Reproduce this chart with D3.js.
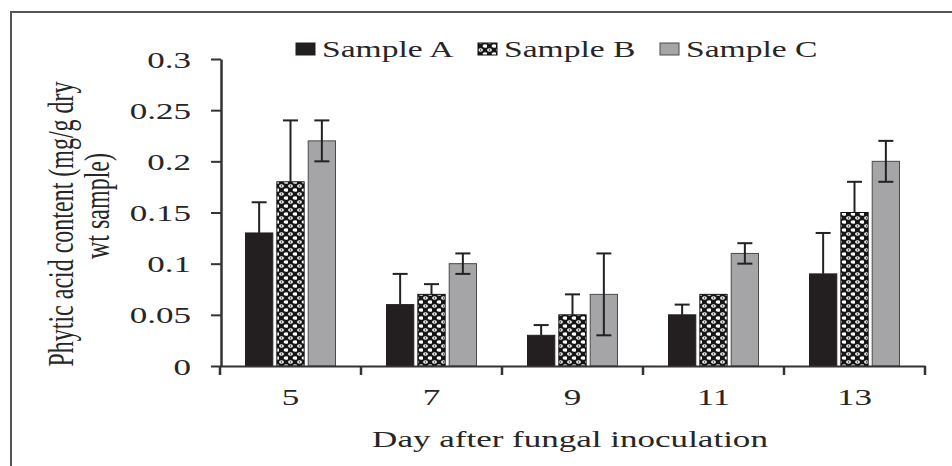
<!DOCTYPE html>
<html>
<head>
<meta charset="utf-8">
<script src="https://cdn.jsdelivr.net/npm/d3@7"></script>
<style>
  body { margin: 0; background: #fff; }
  text { font-family: "Liberation Serif", "Times New Roman", serif; fill: #262626; }
</style>
</head>
<body>
<div id="chart"></div>
<script>
var width = 952;
var height = 466;

// the picture is stretched sideways, so the text is too
var stretch = 1.46;

var days = ['5', '7', '9', '11', '13'];
var seriesNames = ['Sample A', 'Sample B', 'Sample C'];
var sampleA = [0.13, 0.06, 0.03, 0.05, 0.09];
var sampleB = [0.18, 0.07, 0.05, 0.07, 0.15];
var sampleC = [0.22, 0.10, 0.07, 0.11, 0.20];
var errA = [0.03, 0.03, 0.01, 0.01, 0.04];
var errB = [0.06, 0.01, 0.02, 0, 0.03];
var errC = [0.02, 0.01, 0.04, 0.01, 0.02];
var yTicks = [0, 0.05, 0.1, 0.15, 0.2, 0.25, 0.3];

var values = [sampleA, sampleB, sampleC];
var errors = [errA, errB, errC];
// A and B only show the upper half of the error bar
var twoSided = [false, false, true];

var svg = d3.select('#chart').append('svg')
  .attr('width', width)
  .attr('height', height);

// pattern for sample B
var defs = svg.append('defs');
var pat = defs.append('pattern')
  .attr('id', 'chain')
  .attr('patternUnits', 'userSpaceOnUse')
  .attr('width', 9)
  .attr('height', 8);
pat.append('rect').attr('width', 9).attr('height', 8).attr('fill', '#151515');
pat.append('ellipse').attr('cx', 2.5).attr('cy', 2).attr('rx', 2.4).attr('ry', 1.8).attr('fill', '#fff');
pat.append('ellipse').attr('cx', 7).attr('cy', 6).attr('rx', 2.4).attr('ry', 1.8).attr('fill', '#fff');
pat.append('circle').attr('cx', 2.5).attr('cy', 2).attr('r', 0.8).attr('fill', '#151515');

var fills = ['#231f20', 'url(#chain)', '#a5a5a7'];
var strokes = ['#231f20', '#111', '#4a4a4a'];

// frame
svg.append('path')
  .attr('d', 'M11,' + height + 'V12H' + width)
  .attr('fill', 'none')
  .attr('stroke', '#555')
  .attr('stroke-width', 2);

var x = d3.scaleBand()
  .domain(days)
  .range([220, 925]);

var y = d3.scaleLinear()
  .domain([0, 0.3])
  .range([366, 59]);

var inner = d3.scaleBand()
  .domain(seriesNames)
  .range([x.bandwidth() / 2 - 45, x.bandwidth() / 2 + 45])
  .paddingInner(0.13);

// bars
seriesNames.forEach(function(name, s) {
  var g = svg.append('g');
  g.selectAll('rect')
    .data(days)
    .enter().append('rect')
    .attr('x', function(d) { return x(d) + inner(name); })
    .attr('y', function(d, i) { return y(values[s][i]); })
    .attr('width', inner.bandwidth())
    .attr('height', function(d, i) { return y(0) - y(values[s][i]); })
    .attr('fill', fills[s])
    .attr('stroke', strokes[s])
    .attr('stroke-width', 1);

  // error bars
  var eb = g.selectAll('.err')
    .data(days.filter(function(d, i) { return errors[s][i] > 0; }))
    .enter().append('g').classed('err', true)
    .attr('stroke', '#222')
    .attr('stroke-width', 2)
    .attr('transform', function(d) {
      return 'translate(' + (x(d) + inner(name) + inner.bandwidth() / 2) + ',0)';
    });
  eb.append('line')
    .attr('y1', function(d) {
      var i = days.indexOf(d);
      return twoSided[s] ? y(values[s][i] - errors[s][i]) : y(values[s][i]);
    })
    .attr('y2', function(d) { var i = days.indexOf(d); return y(values[s][i] + errors[s][i]); });
  eb.append('line')
    .attr('x1', -7.5).attr('x2', 7.5)
    .attr('y1', function(d) { var i = days.indexOf(d); return y(values[s][i] + errors[s][i]); })
    .attr('y2', function(d) { var i = days.indexOf(d); return y(values[s][i] + errors[s][i]); });
  if (twoSided[s]) {
    eb.append('line')
      .attr('x1', -7.5).attr('x2', 7.5)
      .attr('y1', function(d) { var i = days.indexOf(d); return y(values[s][i] - errors[s][i]); })
      .attr('y2', function(d) { var i = days.indexOf(d); return y(values[s][i] - errors[s][i]); });
  }
});

// y axis
var yAxis = svg.append('g')
  .attr('transform', 'translate(221,0)')
  .call(d3.axisLeft(y).tickValues(yTicks).tickSize(10).tickSizeOuter(0)
    .tickFormat(function(d) { return d3.format('')(+d.toFixed(2)); }));
yAxis.select('.domain').attr('stroke', '#333').attr('stroke-width', 2.5);
yAxis.selectAll('.tick line').attr('stroke', '#333').attr('stroke-width', 2);
yAxis.selectAll('.tick text')
  .attr('x', -30 / stretch)
  .attr('dy', '0.34em')
  .attr('transform', 'scale(' + stretch + ',1)')
  .style('font-size', '24px')
  .attr('fill', '#262626');

// x axis
var xAxis = svg.append('g')
  .attr('transform', 'translate(0,366)')
  .call(d3.axisBottom(x).tickSize(0).tickSizeOuter(0));
xAxis.select('.domain').attr('stroke', '#333').attr('stroke-width', 2);
xAxis.selectAll('.tick text')
  .attr('y', 39)
  .attr('dy', 0)
  .attr('transform', 'scale(' + stretch + ',1)')
  .style('font-size', '24px')
  .attr('fill', '#262626');
xAxis.selectAll('.bound')
  .data(days)
  .enter().append('line').classed('bound', true)
  .attr('x1', function(d) { return x(d) + x.bandwidth(); })
  .attr('x2', function(d) { return x(d) + x.bandwidth(); })
  .attr('y1', 0).attr('y2', 9)
  .attr('stroke', '#333').attr('stroke-width', 2.5);
xAxis.append('line')
  .attr('x1', x(days[0])).attr('x2', x(days[0]))
  .attr('y1', 0).attr('y2', 9)
  .attr('stroke', '#333').attr('stroke-width', 2.5);

// axis titles
svg.append('text')
  .attr('transform', 'translate(570,447) scale(' + stretch + ',1)')
  .attr('text-anchor', 'middle')
  .style('font-size', '24px')
  .text('Day after fungal inoculation');

var yTitle = svg.append('g')
  .attr('transform', 'translate(73,214) scale(' + stretch + ',1) rotate(-90)');
yTitle.append('text')
  .attr('text-anchor', 'middle')
  .attr('x', -10)
  .style('font-size', '24px')
  .text('Phytic acid content  (mg/g dry');
yTitle.append('text')
  .attr('text-anchor', 'middle')
  .attr('x', 8)
  .attr('y', 25)
  .style('font-size', '24px')
  .text('wt sample)');

// legend
var legendX = d3.scalePoint()
  .domain(seriesNames)
  .range([296, 660]);

var legend = svg.selectAll('.leg')
  .data(seriesNames)
  .enter().append('g').classed('leg', true)
  .attr('transform', function(d) { return 'translate(' + legendX(d) + ',0)'; });
legend.append('rect')
  .attr('y', 43)
  .attr('width', 19)
  .attr('height', 12)
  .attr('fill', function(d, i) { return fills[i]; })
  .attr('stroke', function(d, i) { return strokes[i]; })
  .attr('stroke-width', 1);
legend.append('text')
  .attr('transform', 'translate(26,57) scale(' + stretch + ',1)')
  .style('font-size', '23px')
  .text(function(d) { return d; });
</script>
</body>
</html>
